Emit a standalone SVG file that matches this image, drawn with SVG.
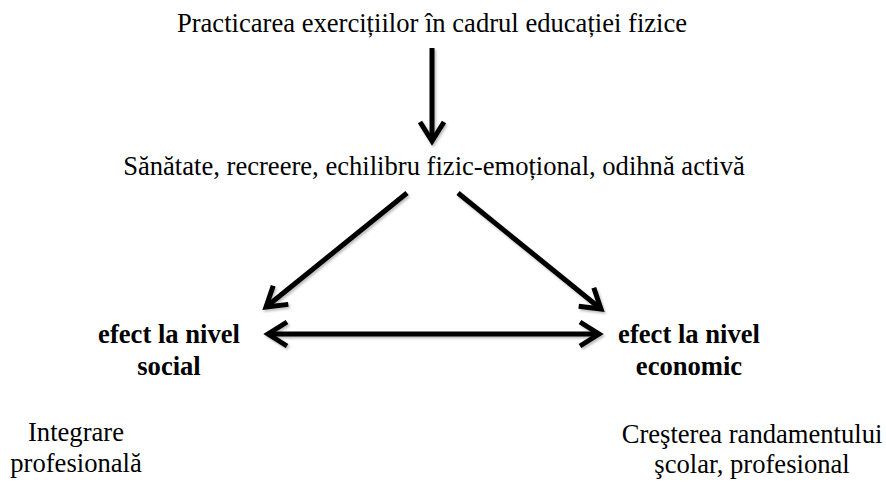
<svg xmlns="http://www.w3.org/2000/svg" width="886" height="482" viewBox="0 0 886 482">
<style>
.t{font-family:'Liberation Serif','Times New Roman',serif;font-size:26.6px;fill:#000}
.b{font-weight:bold}
.c{text-anchor:middle}
.ln{stroke:#000;stroke-width:5;fill:none}
</style>
<defs>
<filter id="sh" x="-20%" y="-20%" width="140%" height="140%">
<feDropShadow dx="1.5" dy="2" stdDeviation="1" flood-color="#000" flood-opacity="0.25"/>
</filter>
<marker id="ah" markerUnits="userSpaceOnUse" markerWidth="40" markerHeight="40" viewBox="-30 -20 40 40" refX="0" refY="0" orient="auto-start-reverse">
<path d="M -19 -12 L 0 0 L -19 12" stroke="#000" stroke-width="5" fill="none" stroke-linejoin="miter" stroke-linecap="butt"/>
</marker>
</defs>
<g class="t">
<g id="n1"><text class="c" x="432" y="32">Practicarea exercițiilor în cadrul educației fizice</text></g>
<g id="n2"><text class="c" x="434" y="175">Sănătate, recreere, echilibru fizic-emoțional, odihnă activă</text></g>
<g id="n3"><text class="b c" x="169" y="343">efect la nivel</text><text class="b c" x="169" y="375">social</text></g>
<g id="n4"><text class="b c" x="689" y="343">efect la nivel</text><text class="b c" x="689" y="375">economic</text></g>
<g id="n5"><text class="c" x="76" y="441">Integrare</text><text class="c" x="76" y="472">profesională</text></g>
<g id="n6"><text class="c" x="752" y="443">Creşterea randamentului</text><text class="c" x="752" y="473">şcolar, profesional</text></g>
</g>
<g id="connectors" filter="url(#sh)">
<line class="ln" x1="432" y1="48" x2="432" y2="141" marker-end="url(#ah)"/>
<line class="ln" x1="407" y1="193" x2="266" y2="307" marker-end="url(#ah)"/>
<line class="ln" x1="458" y1="193" x2="601" y2="309" marker-end="url(#ah)"/>
<line class="ln" x1="268" y1="334" x2="599" y2="334" marker-start="url(#ah)" marker-end="url(#ah)"/>
</g>
</svg>
